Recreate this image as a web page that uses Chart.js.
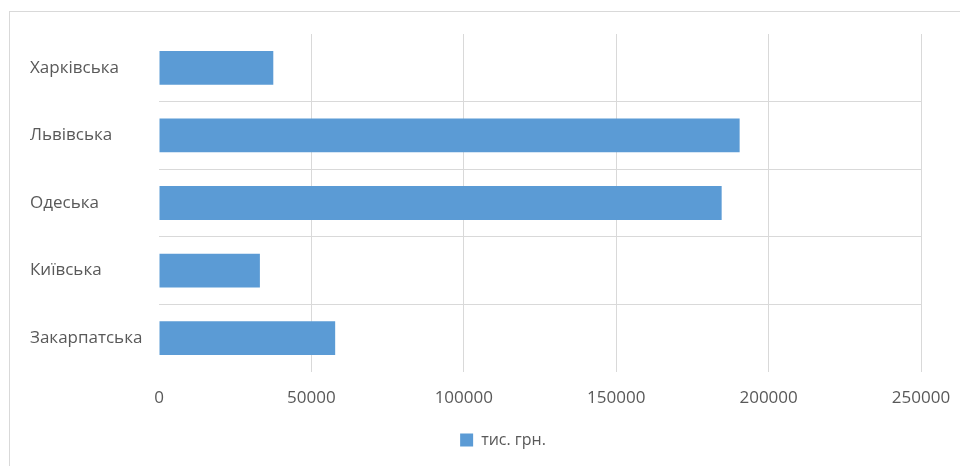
<!DOCTYPE html>
<html>
<head>
<meta charset="utf-8">
<script src="https://cdn.jsdelivr.net/npm/chart.js@4"></script>
<style>
    html, body { margin: 0; padding: 0; background: #fff; overflow: hidden; }
    #wrap {
        position: absolute;
        left: 9px;
        top: 11px;
        width: 986px;
        height: 455px;
        border-top: 1px solid #d9d9d9;
        border-left: 1px solid #d9d9d9;
        box-sizing: border-box;
    }
</style>
</head>
<body>
<div id="wrap"><canvas id="chart"></canvas></div>
<script>
const regions = ["Харківська", "Львівська", "Одеська", "Київська", "Закарпатська"];
const values = [37500, 190500, 184600, 33100, 57800];
const seriesName = "тис. грн.";
const xTicks = [0, 50000, 100000, 150000, 200000, 250000];

const textColor = "#595959";
const gridColor = "#d9d9d9";
const font = { family: "'Open Sans', sans-serif", size: 17 };

// Excel-style legend sits centred on the whole chart box, not the plot area
const legendShift = {
    id: "legendShift",
    beforeDraw(chart) {
        const lg = chart.legend;
        if (!lg) return;
        const w = lg.right - lg.left;
        const centre = 493;
        lg.left = centre - w / 2;
        lg.right = centre + w / 2;
    }
};

new Chart(document.getElementById("chart").getContext("2d"), {
    type: "bar",
    data: {
        labels: regions,
        datasets: [{
            label: seriesName,
            data: values,
            backgroundColor: "#5b9bd5",
            borderWidth: 0,
            categoryPercentage: 1,
            barPercentage: 0.5
        }]
    },
    options: {
        indexAxis: "y",
        responsive: true,
        maintainAspectRatio: false,
        animation: false,
        layout: { padding: { left: 20, right: 74, top: 22, bottom: 8 } },
        scales: {
            x: {
                min: 0,
                max: 250000,
                afterBuildTicks: axis => { axis.ticks = xTicks.map(v => ({ value: v })); },
                afterFit: axis => { axis.height = 50; },
                border: { display: false },
                grid: {
                    color: ctx => ctx.index === 0 ? "rgba(0,0,0,0)" : gridColor,
                    drawTicks: false
                },
                ticks: {
                    color: textColor,
                    font: font,
                    padding: 16,
                    maxRotation: 0,
                    callback: v => String(v)
                }
            },
            y: {
                afterFit: axis => {
                    axis.width = 129;
                    axis.paddingTop = 0;
                    axis.paddingBottom = 0;
                },
                border: { display: false },
                grid: {
                    offset: true,
                    color: ctx => (ctx.type !== "tick" || ctx.index === 0) ? "rgba(0,0,0,0)" : gridColor,
                    drawTicks: false
                },
                ticks: { color: textColor, font: font, crossAlign: "far", padding: 16 }
            }
        },
        plugins: {
            legend: {
                position: "bottom",
                labels: {
                    color: textColor,
                    font: { family: "'Open Sans', sans-serif", size: 16 },
                    boxWidth: 13,
                    boxHeight: 13,
                    padding: 10
                }
            },
            tooltip: { enabled: false }
        }
    },
    plugins: [legendShift]
});
</script>
</body>
</html>
